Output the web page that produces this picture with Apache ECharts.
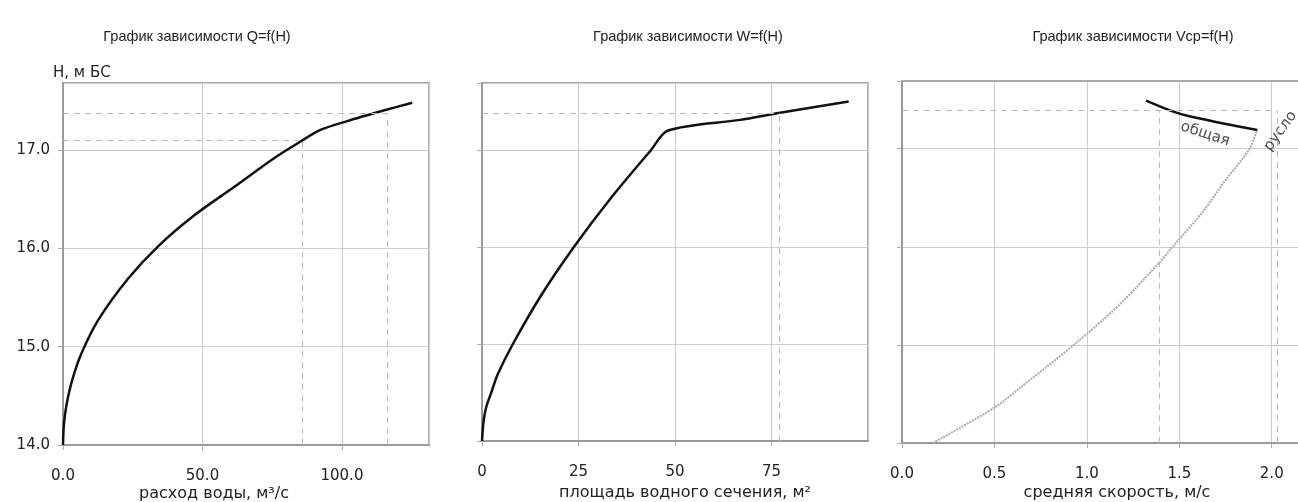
<!DOCTYPE html>
<html>
<head>
<meta charset="utf-8">
<script src="https://cdn.jsdelivr.net/npm/echarts@6/dist/echarts.min.js"></script>
<style>
  html, body { margin: 0; padding: 0; background: #fff; }
  #chart { width: 1298px; height: 502px; }
</style>
</head>
<body>
<div id="chart"></div>
<script>
(function() {

// titles and axis names
const titles = ["График зависимости Q=f(H)", "График зависимости W=f(H)", "График зависимости Vср=f(H)"];
const xNames = ["расход воды, м³/с", "площадь водного сечения, м²", "средняя скорость, м/с"];
const yName = "Н, м БС";

// Q=f(H)
const qFlow  = [0, 0.3, 1.2, 3.3, 6.6, 12.6, 23.3, 34.1, 47.3, 61.7, 75.9, 84.9, 92.1, 101.6, 114.9, 125.2];
const qLevel = [14.0, 14.2, 14.4, 14.66, 14.93, 15.27, 15.69, 16.02, 16.34, 16.63, 16.92, 17.08, 17.20, 17.29, 17.40, 17.48];
const qDashX = [85.7, 116.4];
const qDashH = [17.10, 17.37];

// W=f(H)
const wArea  = [0, 0.4, 1.1, 2.4, 4.1, 8.0, 15.3, 23.8, 33.3, 43.8, 48.2, 66.9, 76.8, 95.0];
const wLevel = [14.0, 14.2, 14.35, 14.5, 14.69, 15.0, 15.5, 16.0, 16.5, 17.0, 17.20, 17.31, 17.38, 17.50];
const wDashX = [77.1];
const wDashH = [17.38];

// Vср=f(H)
const vTotal  = [1.32, 1.464, 1.554, 1.732, 1.922];
const hTotal  = [17.49, 17.38, 17.33, 17.26, 17.19];
const vChannel = [0.167, 0.50, 0.637, 0.942, 1.176, 1.392, 1.473, 1.624, 1.75, 1.877, 1.92];
const hChannel = [14.0, 14.36, 14.56, 15.02, 15.41, 15.84, 16.02, 16.35, 16.68, 16.99, 17.19];
const vDashX = [1.39, 2.03];
const vDashH = [17.39, 17.39];
const vNames = ["общая", "русло"];
const vNameX = [1.64, 2.047];
const vNameH = [17.15, 17.18];

const pairs = (xs, ys) => xs.map((x, i) => [x, ys[i]]);

const dashLines = (xs, hs) => {
  const out = [];
  xs.forEach((x, i) => {
    out.push([{ coord: [0, hs[i]] }, { coord: [x, hs[i]] }]);
    out.push([{ coord: [x, 14] }, { coord: [x, hs[i]] }]);
  });
  return out;
};

const markDash = (xs, hs) => ({
  silent: true,
  symbol: "none",
  animation: false,
  label: { show: false },
  lineStyle: { type: [6, 5], color: "#bbb", width: 1 },
  data: dashLines(xs, hs)
});

const tickFont = { fontSize: 15, fontFamily: "DejaVu Sans", color: "#222" };

const xAxisOf = (i, max, interval, digits) => ({
  type: "value",
  gridIndex: i,
  min: 0,
  max: max,
  interval: interval,
  axisLine: { show: true, onZero: false, lineStyle: { color: "#999", width: 2 } },
  axisTick: { show: true, length: 5, lineStyle: { color: "#aaa" } },
  axisLabel: Object.assign({
    margin: 24,
    showMaxLabel: false,
    formatter: (v) => v.toFixed(digits)
  }, tickFont),
  splitLine: { show: true, lineStyle: { color: "#ccc", width: 1 } }
});

const yAxisOf = (i, max, labels) => ({
  type: "value",
  gridIndex: i,
  min: 14,
  max: max,
  interval: 1,
  axisLine: { show: true, onZero: false, lineStyle: { color: "#999", width: 2 } },
  axisTick: { show: true, length: 5, lineStyle: { color: "#aaa" } },
  axisLabel: Object.assign({
    show: labels,
    margin: 13,
    showMaxLabel: false,
    formatter: (v) => v.toFixed(1)
  }, tickFont),
  splitLine: { show: true, lineStyle: { color: "#ccc", width: 1 } }
});

const gridBox = { show: true, borderColor: "#aaa", borderWidth: 2, containLabel: false };

const titleText = (x, y, text, size, family) => ({
  type: "text",
  x: x,
  y: y,
  silent: true,
  style: {
    text: text,
    fill: "#222",
    font: size + "px " + family,
    align: "center",
    verticalAlign: "middle"
  }
});

const option = {
  animation: false,
  backgroundColor: "#fff",
  grid: [
    Object.assign({ left: 63, top: 83, width: 366, height: 362 }, gridBox),
    Object.assign({ left: 482, top: 83, width: 386, height: 358 }, gridBox),
    // third plot runs off the right edge: no frame, top edge drawn by a bare axis
    { left: 902, top: 81, width: 397, height: 362, show: false, containLabel: false }
  ],
  xAxis: [
    xAxisOf(0, 131.2, 50, 1),
    xAxisOf(1, 100, 25, 0),
    xAxisOf(2, 2.142, 0.5, 1),
    {
      type: "value",
      gridIndex: 2,
      position: "top",
      min: 0,
      max: 2.142,
      axisLine: { show: true, onZero: false, lineStyle: { color: "#aaa", width: 2 } },
      axisTick: { show: false },
      axisLabel: { show: false },
      splitLine: { show: false }
    }
  ],
  yAxis: [
    yAxisOf(0, 17.68, true),
    yAxisOf(1, 17.69, false),
    yAxisOf(2, 17.69, false)
  ],
  series: [
    {
      type: "line",
      xAxisIndex: 0, yAxisIndex: 0,
      data: pairs(qFlow, qLevel),
      smooth: 0.3,
      symbol: "none",
      lineStyle: { color: "#111", width: 2.5 },
      markLine: markDash(qDashX, qDashH)
    },
    {
      type: "line",
      xAxisIndex: 1, yAxisIndex: 1,
      data: pairs(wArea, wLevel),
      smooth: 0.3,
      symbol: "none",
      lineStyle: { color: "#111", width: 2.5 },
      markLine: markDash(wDashX, wDashH)
    },
    {
      type: "line",
      xAxisIndex: 2, yAxisIndex: 2,
      data: pairs(vChannel, hChannel),
      smooth: 0.3,
      symbol: "none",
      lineStyle: { color: "#aaa", width: 2, type: [2, 1] },
      markLine: markDash(vDashX, vDashH)
    },
    {
      type: "line",
      xAxisIndex: 2, yAxisIndex: 2,
      data: pairs(vTotal, hTotal),
      smooth: 0.3,
      symbol: "none",
      lineStyle: { color: "#111", width: 2.5 }
    },
    {
      type: "scatter",
      xAxisIndex: 2, yAxisIndex: 2,
      symbolSize: 0,
      silent: true,
      data: vNames.map((n, i) => ({
        value: [vNameX[i], vNameH[i]],
        name: n,
        label: { rotate: i === 0 ? -18 : 54 }
      })),
      label: {
        show: true,
        position: "inside",
        align: "center",
        verticalAlign: "middle",
        formatter: (p) => p.name,
        fontSize: 15,
        fontFamily: "DejaVu Sans",
        color: "#222"
      }
    }
  ],
  graphic: [
    titleText(197, 37, titles[0], 14.5, "'Liberation Sans', Arial, sans-serif"),
    titleText(688, 37, titles[1], 14.5, "'Liberation Sans', Arial, sans-serif"),
    titleText(1133, 37, titles[2], 14.5, "'Liberation Sans', Arial, sans-serif"),
    titleText(214, 494, xNames[0], 16, "'DejaVu Sans', sans-serif"),
    titleText(685, 493, xNames[1], 16, "'DejaVu Sans', sans-serif"),
    titleText(1117, 493, xNames[2], 16, "'DejaVu Sans', sans-serif"),
    {
      type: "text",
      x: 53,
      y: 73,
      silent: true,
      style: {
        text: yName,
        fill: "#222",
        font: "15px 'DejaVu Sans', sans-serif",
        align: "left",
        verticalAlign: "middle"
      }
    }
  ]
};

const chart = echarts.init(document.getElementById("chart"));
chart.setOption(option);

window.addEventListener("resize", () => chart.resize());
})();
</script>
</body>
</html>
